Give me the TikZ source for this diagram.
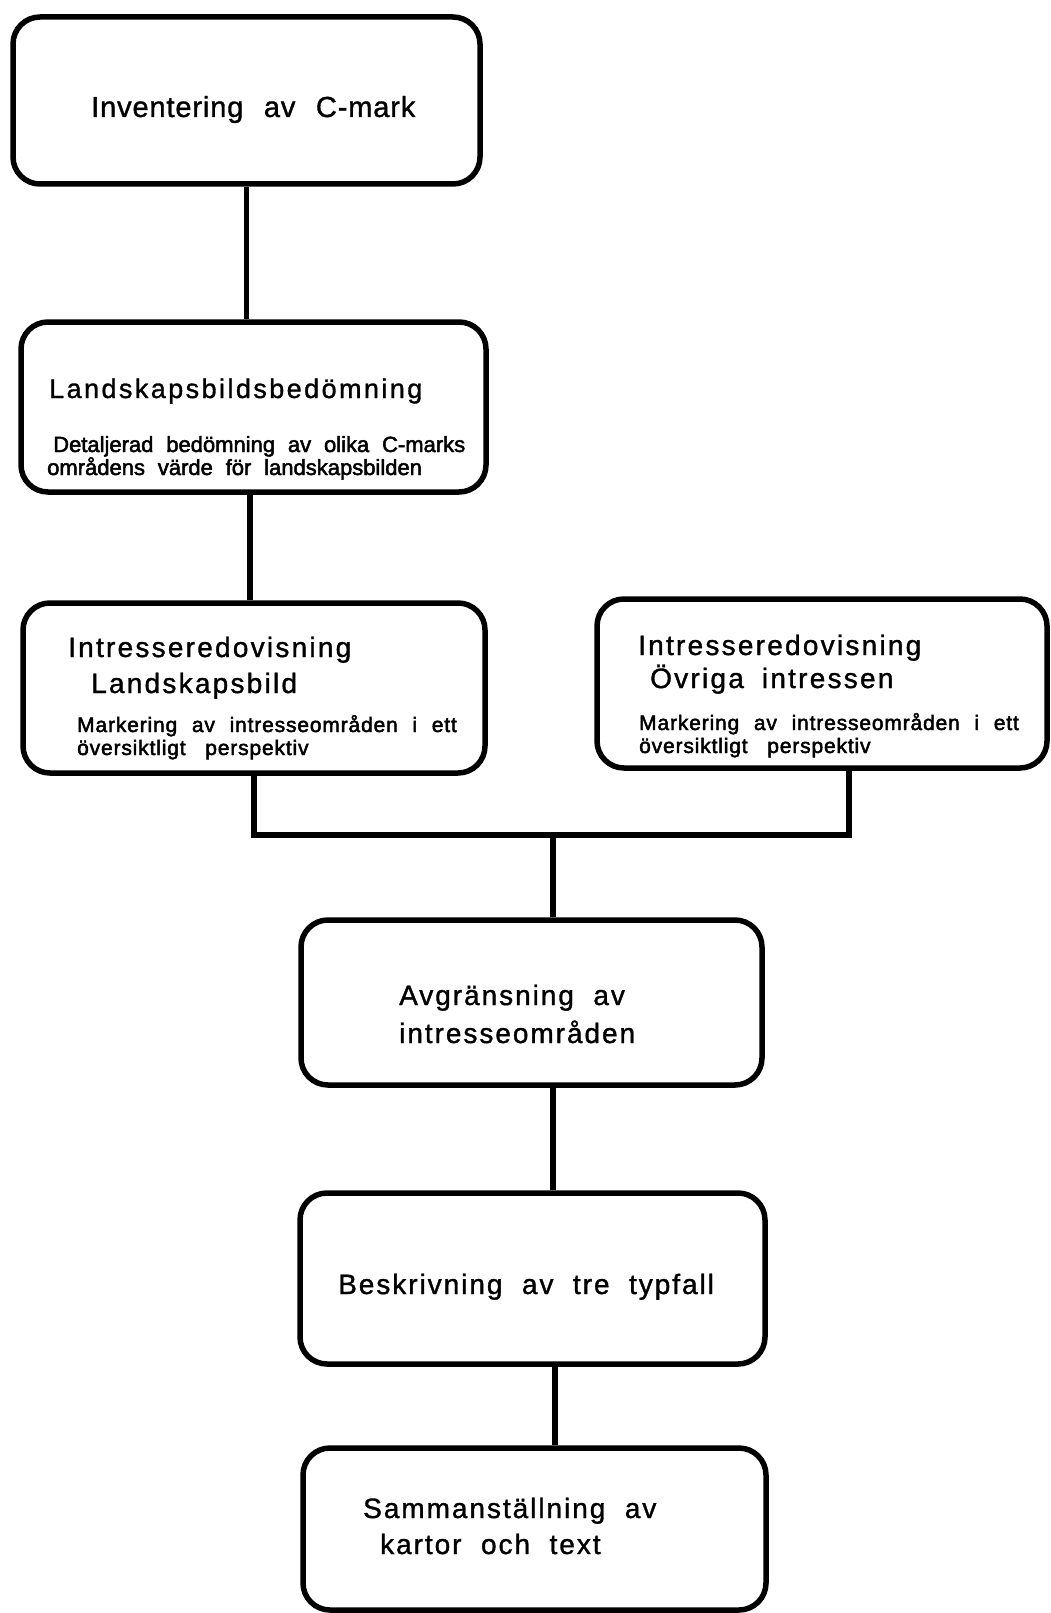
\documentclass[tikz,border=0pt]{standalone}
\usepackage{fontspec}
\setmainfont{Liberation Sans}
\newfontfamily\fOne{Liberation Sans}[LetterSpace=3,WordSpace=2.3,FakeBold=1.2]
\newfontfamily\fTwo{Liberation Sans}[LetterSpace=9,WordSpace=2,FakeBold=1.2]
\newfontfamily\fTwoS{Liberation Sans}[LetterSpace=0,WordSpace=2.1,FakeBold=2.2]
\newfontfamily\fThree{Liberation Sans}[LetterSpace=8,WordSpace=1.8,FakeBold=1.2]
\newfontfamily\fThreeS{Liberation Sans}[LetterSpace=4,WordSpace=2.2,FakeBold=2.2]
\newfontfamily\fFive{Liberation Sans}[LetterSpace=7,WordSpace=2,FakeBold=1.2]
\tikzset{
  box/.style={draw, rectangle, line width=5.5pt, rounded corners=27pt, inner sep=0pt},
  link/.style={line width=5.5pt},
  lbl/.style={anchor=base west, inner sep=0pt},
  tone/.style={lbl, font=\fOne\fontsize{29pt}{34pt}\selectfont},
  ttwo/.style={lbl, font=\fTwo\fontsize{27pt}{32pt}\selectfont},
  ttwos/.style={lbl, font=\fTwoS\fontsize{22pt}{26pt}\selectfont},
  tthree/.style={lbl, font=\fThree\fontsize{28pt}{32pt}\selectfont},
  tthrees/.style={lbl, font=\fThreeS\fontsize{21pt}{25pt}\selectfont},
  tfive/.style={lbl, font=\fFive\fontsize{28pt}{33pt}\selectfont}
}
\begin{document}
\begin{tikzpicture}[x=1pt,y=-1pt]
\useasboundingbox (0,0) rectangle (1050,1613);
\fill[white] (0,0) rectangle (1050,1613);

% boxes
\node[box, minimum width=467pt, minimum height=167pt] (b1) at (246.5,100.5) {};
\node[box, minimum width=465pt, minimum height=170pt] (b2) at (253.5,407) {};
\node[box, minimum width=462pt, minimum height=170pt] (b3) at (254,688) {};
\node[box, minimum width=450pt, minimum height=169pt] (b4) at (822,683.5) {};
\node[box, minimum width=461pt, minimum height=165pt] (b5) at (531.5,1002.5) {};
\node[box, minimum width=465pt, minimum height=171pt] (b6) at (532.5,1278.5) {};
\node[box, minimum width=463pt, minimum height=162pt] (b7) at (534.5,1529) {};

% texts
\node[tone] (t1) at (91,117) {Inventering av C-mark};
\node[ttwo] (t2) at (49,398) {Landskapsbildsbedömning};
\node[ttwos] (t2a) at (53,452) {Detaljerad bedömning av olika C-marks};
\node[ttwos] (t2b) at (47,475) {områdens värde för landskapsbilden};
\node[tthree] (t3a) at (68,657) {Intresseredovisning};
\node[tthree] (t3b) at (91,693) {Landskapsbild};
\node[tthrees] (t3c) at (77,732) {Markering av intresseområden i ett};
\node[tthrees] (t3d) at (77,755) {översiktligt\hspace{5pt} perspektiv};
\node[tthree] (t4a) at (638,655) {Intresseredovisning};
\node[tthree] (t4b) at (650,688) {Övriga intressen};
\node[tthrees] (t4c) at (639,730) {Markering av intresseområden i ett};
\node[tthrees] (t4d) at (639,753) {översiktligt\hspace{5pt} perspektiv};
\node[tfive] (t5a) at (399,1005) {Avgränsning av};
\node[tfive] (t5b) at (399,1043) {intresseområden};
\node[tfive] (t6) at (338,1294) {Beskrivning av tre typfall};
\node[tfive] (t7a) at (363,1518) {Sammanställning av};
\node[tfive] (t7b) at (380,1554) {kartor och text};

% connectors
\draw[link] (b1.south) -- (b1.south |- b2.north);
\coordinate (k2) at (250,0);
\draw[link] (b2.south -| k2) -- (b3.north -| k2);
\coordinate (k3) at (254,835);
\coordinate (k4) at (849,835);
\coordinate (k5) at (553,835);
\draw[link] (b3.south -| k3) -- (k3) -- (k4) -- (b4.south -| k4);
\draw[link] (k5) -- (b5.north -| k5);
\coordinate (k6) at (553,0);
\draw[link] (b5.south -| k6) -- (b6.north -| k6);
\coordinate (k7) at (555,0);
\draw[link] (b6.south -| k7) -- (b7.north -| k7);
\end{tikzpicture}
\end{document}
